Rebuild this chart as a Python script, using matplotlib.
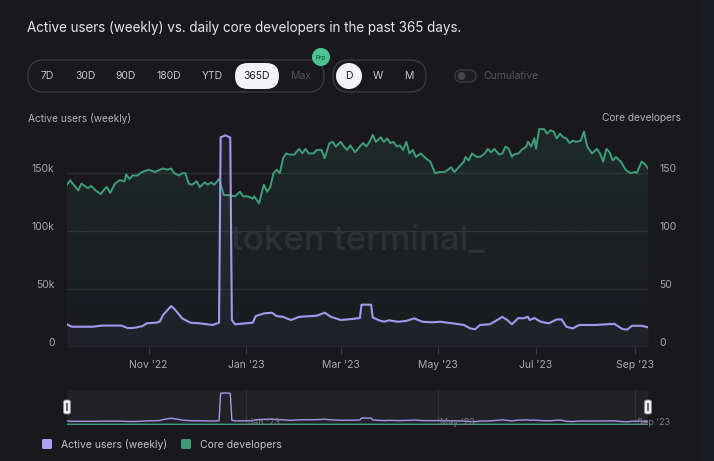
import numpy as np
import pandas as pd
import matplotlib
matplotlib.use("Agg")
import matplotlib.pyplot as plt
import matplotlib.dates as mdates
from matplotlib.patches import FancyBboxPatch, Circle, Rectangle
from matplotlib.transforms import ScaledTranslation

plt.rcParams['font.family'] = ['Inter', 'DejaVu Sans']

BG = '#19181d'
GREEN = '#3d9e7a'
PURPLE = '#a497f0'
GRID = '#2c2b31'
TICK = '#a8a8ae'

# data, day offsets from START
START = '2022-09-11'
dev_day = [0, 2, 3, 6, 7, 9, 12, 13, 15, 18, 21, 24, 25, 27, 30, 33, 36, 37, 39, 41,
           44, 47, 51, 55, 58, 60, 63, 65, 67, 70, 72, 74, 76, 78, 81, 83, 86, 88, 90, 92,
           95, 98, 101, 105, 108, 110, 113, 116, 117, 120, 123, 125, 127, 129, 131, 133, 135, 137, 139, 142,
           145, 147, 149, 151, 154, 156, 159, 161, 164, 166, 168, 171, 173, 175, 177, 180, 183, 185, 187, 189,
           191, 193, 196, 198, 200, 202, 204, 206, 208, 210, 212, 214, 216, 218, 221, 224, 227, 230, 233, 236,
           238, 240, 242, 246, 248, 249, 251, 253, 256, 258, 261, 263, 265, 267, 270, 272, 274, 276, 278, 279,
           282, 284, 287, 288, 290, 292, 293, 295, 298, 300, 302, 304, 306, 308, 310, 312, 314, 316, 318, 321,
           323, 325, 328, 331, 333, 335, 337, 339, 341, 343, 346, 349, 352, 355, 356, 359, 361, 363]
dev_count = [140, 144, 142, 137, 135, 141, 138, 137, 139, 135, 132, 137, 138, 133, 141, 144, 143, 149, 145, 148,
             148, 151, 153, 151, 153, 154, 153, 154, 150, 148, 150, 150, 141, 140, 143, 138, 142, 140, 142, 140,
             145, 131, 131, 130, 134, 130, 130, 128, 130, 124, 140, 134, 138, 150, 153, 150, 163, 167, 166, 166,
             171, 167, 171, 167, 167, 170, 170, 163, 176, 177, 173, 177, 173, 170, 174, 168, 173, 176, 173, 177,
             183, 177, 181, 177, 180, 176, 177, 173, 174, 170, 177, 167, 170, 164, 167, 163, 160, 150, 151, 151,
             153, 155, 151, 157, 160, 164, 161, 167, 164, 164, 167, 171, 168, 171, 166, 167, 173, 171, 164, 166,
             167, 170, 173, 177, 173, 180, 171, 188, 188, 184, 187, 186, 180, 184, 181, 180, 176, 178, 177, 178,
             186, 173, 167, 171, 167, 160, 171, 168, 161, 164, 160, 153, 150, 151, 150, 160, 158, 154]

user_day = [0, 3, 16, 22, 27, 34, 38, 42, 47, 50, 56, 58, 60, 65, 67, 72, 77, 83, 91, 95,
            96, 99, 102, 103, 105, 116, 118, 123, 128, 131, 135, 140, 145, 156, 161, 165, 171, 177, 183, 184,
            190, 191, 195, 198, 201, 207, 212, 217, 222, 228, 233, 241, 248, 252, 255, 258, 264, 267, 272, 275,
            278, 282, 285, 288, 289, 292, 296, 301, 306, 309, 312, 316, 320, 330, 342, 347, 350, 353, 359, 363]
users_k = [19.5, 17.5, 17.5, 18.5, 18.5, 18.5, 16.3, 16.5, 18.0, 20.5, 21.0, 22.0, 27.6, 35.3, 33.0, 24.7, 21.0, 20.4, 19.0, 21.0,
           181.0, 182.6, 180.7, 23.3, 19.6, 21.0, 26.7, 29.0, 29.6, 26.7, 26.0, 23.3, 26.0, 27.0, 29.6, 26.0, 23.3, 24.0, 25.0, 36.5,
           36.5, 25.5, 23.0, 21.8, 23.0, 21.8, 22.5, 24.7, 21.8, 21.3, 21.8, 20.4, 19.0, 16.0, 15.3, 19.0, 19.6, 21.8, 26.0, 23.3,
           19.6, 25.0, 24.7, 26.0, 23.3, 25.0, 21.8, 20.4, 23.8, 23.8, 17.5, 16.0, 19.0, 19.0, 20.0, 15.5, 15.0, 18.3, 18.3, 17.0]

tick_dates = ['2022-11-01', '2023-01-01', '2023-03-01', '2023-05-01', '2023-07-01', '2023-09-01']
nav_dates = ['2023-01-01', '2023-05-01', '2023-09-01']
y_ticks = [0, 50, 100, 150]

start = pd.Timestamp(START)
dev_x = start + pd.to_timedelta(dev_day, unit='D')
user_x = start + pd.to_timedelta(user_day, unit='D')
x0, x1 = start, start + pd.Timedelta(days=363)

W, H = 714, 461
fig = plt.figure(figsize=(W / 100, H / 100), dpi=100, facecolor=BG)

def box(l, t, r, b):
    return [l / W, 1 - b / H, (r - l) / W, (b - t) / H]

# ---- main chart
ax = fig.add_axes(box(67, 121, 648, 347))
ax.set_facecolor('none')
ax2 = ax.twinx()
for a in (ax, ax2):
    a.set_ylim(0, 195)
    for s in a.spines.values():
        s.set_visible(False)
ax.set_xlim(x0, x1)

ax.set_yticks(y_ticks)
ax.set_yticklabels(['0' if v == 0 else f'{v}k' for v in y_ticks])
ax2.set_yticks(y_ticks)
ax2.set_yticklabels([str(v) for v in y_ticks])
ax.grid(axis='y', color=GRID, lw=1)
ax.tick_params(axis='y', length=0, pad=9, labelsize=7.5, labelcolor=TICK)
ax2.tick_params(axis='y', length=0, pad=8, labelsize=7.5, labelcolor=TICK)
up = ScaledTranslation(0, 5 / 100, fig.dpi_scale_trans)
for lab in ax.get_yticklabels() + ax2.get_yticklabels():
    lab.set_transform(lab.get_transform() + up)

ax.set_xticks(pd.to_datetime(tick_dates))
ax.xaxis.set_major_formatter(mdates.DateFormatter("%b '%y"))
ax.tick_params(axis='x', length=5, color='#3a393f', pad=4, labelsize=7.5, labelcolor=TICK)
ax.axhline(0, color='#333238', lw=1, zorder=2)

# green area with fading gradient
poly = ax2.fill_between(dev_x, dev_count, 0, color='none', lw=0)
grad = np.linspace(0.02, 0.14, 256).reshape(-1, 1)
rgba = np.zeros((256, 1, 4))
rgba[..., :3] = matplotlib.colors.to_rgb(GREEN)
rgba[..., 3] = grad
img = ax2.imshow(rgba, aspect='auto', origin='lower',
                 extent=[mdates.date2num(x0), mdates.date2num(x1), 0, 190], zorder=1)
img.set_clip_path(poly.get_paths()[0], transform=ax2.transData)
ax2.set_xlim(x0, x1)
ax2.set_ylim(0, 195)

ax2.fill_between(user_x, users_k, 0, color=PURPLE, alpha=0.05, lw=0, zorder=2)
ax2.plot(dev_x, dev_count, color=GREEN, lw=1.4, zorder=3)
ax2.plot(user_x, users_k, color=PURPLE, lw=1.5, zorder=4)

ax.text(0.5, 0.47, 'token terminal_', transform=ax.transAxes, ha='center', va='center',
        fontsize=25, fontweight='medium', color='#2a292f', zorder=1)

# ---- navigator
nav = fig.add_axes(box(67, 390, 648, 425))
nav.set_facecolor('#222126')
for s in nav.spines.values():
    s.set_visible(False)
nav.set_xlim(x0, x1)
nav.set_ylim(-4, 200)
nav.set_xticks([])
nav.set_yticks([])
for d in pd.to_datetime(nav_dates):
    nav.axvline(d, color='#323137', lw=0.8)
    nav.text(d + pd.Timedelta(days=1), 12, d.strftime("%b '%y"), fontsize=6.5,
             color='#7d7c84', va='center', ha='left', clip_on=False)
nav.plot(user_x, users_k, color=PURPLE, lw=1.0)
nav.plot(dev_x, [c / 1000 for c in dev_count], color=GREEN, lw=1.0)

# ---- overlay for title, controls, legend
ui = fig.add_axes([0, 0, 1, 1])
ui.set_xlim(0, W)
ui.set_ylim(H, 0)
ui.axis('off')
ui.patch.set_alpha(0)

ui.text(27, 28, 'Active users (weekly) vs. daily core developers in the past 365 days.',
        fontsize=9.7, color='#e4e4e8', va='center', ha='left')

ui.add_patch(FancyBboxPatch((28, 60), 296, 32, boxstyle='round,pad=0,rounding_size=16',
                            fc='none', ec='#3b3a40', lw=1))
ui.add_patch(FancyBboxPatch((235, 63), 44, 26, boxstyle='round,pad=0,rounding_size=13',
                            fc='#f4f4f6', ec='none'))
for lbl, cx in [('7D', 47), ('30D', 85), ('90D', 126), ('180D', 169), ('YTD', 212)]:
    ui.text(cx, 76, lbl, fontsize=7.5, color='#c6c6cc', ha='center', va='center')
ui.text(257, 76, '365D', fontsize=7.5, color='#1b1a20', ha='center', va='center')
ui.text(301, 76, 'Max', fontsize=7.5, color='#505056', ha='center', va='center')
ui.add_patch(Circle((321, 57), 9, fc='#4cc391', ec='none'))
ui.text(321, 57.5, 'Pro', fontsize=4.5, color='#173a2a', ha='center', va='center')

ui.add_patch(FancyBboxPatch((333, 60), 93, 32, boxstyle='round,pad=0,rounding_size=16',
                            fc='none', ec='#3b3a40', lw=1))
ui.add_patch(Circle((349, 76), 13, fc='#f4f4f6', ec='none'))
ui.text(349, 76, 'D', fontsize=7.5, color='#1b1a20', ha='center', va='center')
ui.text(378, 76, 'W', fontsize=7.5, color='#c6c6cc', ha='center', va='center')
ui.text(409, 76, 'M', fontsize=7.5, color='#c6c6cc', ha='center', va='center')

ui.add_patch(FancyBboxPatch((455, 70), 21, 12, boxstyle='round,pad=0,rounding_size=6',
                            fc='#1d1c21', ec='#3b3a40', lw=1))
ui.add_patch(Circle((461.5, 76), 4, fc='#48474d', ec='none'))
ui.text(483, 76, 'Cumulative', fontsize=7.5, color='#56555b', ha='left', va='center')

ui.text(28, 118, 'Active users (weekly)', fontsize=7.3, color='#b4b4ba', ha='left', va='center')
ui.text(681, 118, 'Core developers', fontsize=7.3, color='#b4b4ba', ha='right', va='center')

# navigator handles
for hx in (67, 648):
    ui.add_patch(FancyBboxPatch((hx - 3.5, 400), 7, 14, boxstyle='round,pad=0,rounding_size=2',
                                fc='#f0f0f2', ec='#8a8a90', lw=0.6))
    ui.add_patch(Rectangle((hx - 1, 403), 2, 8, fc='#6a6a70', ec='none'))

# legend
ui.add_patch(FancyBboxPatch((42, 439), 10, 10, boxstyle='round,pad=0,rounding_size=1.5',
                            fc='#aba2f6', ec='none'))
ui.text(61, 444.5, 'Active users (weekly)', fontsize=7.5, color='#c2c2c8', ha='left', va='center')
ui.add_patch(FancyBboxPatch((181, 439), 10, 10, boxstyle='round,pad=0,rounding_size=1.5',
                            fc='#3f9a78', ec='none'))
ui.text(200, 444.5, 'Core developers', fontsize=7.5, color='#c2c2c8', ha='left', va='center')

# slightly different strip at right edge
ui.add_patch(Rectangle((703, 0), 11, H, fc='#1c1c25', ec='none'))

fig.savefig('out.png', dpi=100, facecolor=BG)
